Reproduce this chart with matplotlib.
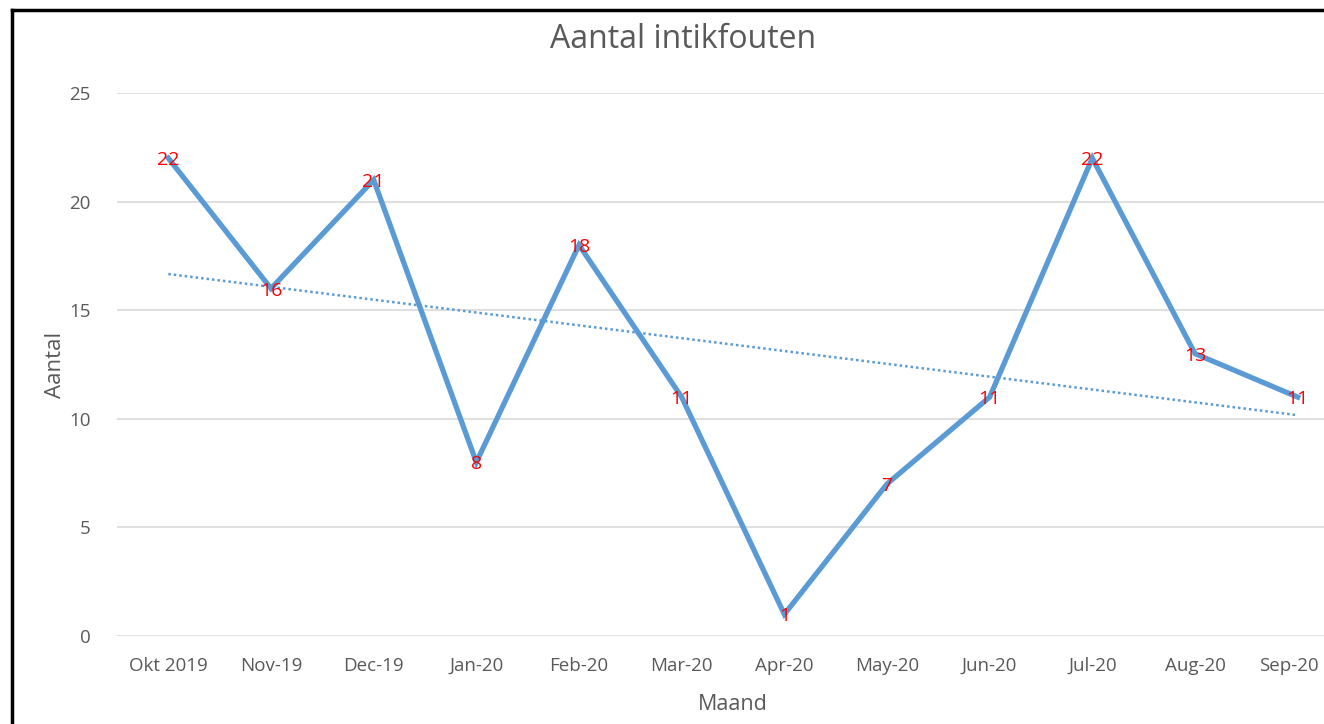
import matplotlib
matplotlib.use("Agg")
import matplotlib.pyplot as plt
from matplotlib.lines import Line2D
import matplotlib.transforms as mtransforms
import numpy as np

months = ["Okt 2019", "Nov-19", "Dec-19", "Jan-20", "Feb-20", "Mar-20",
          "Apr-20", "May-20", "Jun-20", "Jul-20", "Aug-20", "Sep-20"]
counts = [22, 16, 21, 8, 18, 11, 1, 7, 11, 22, 13, 11]
yticks = [0, 5, 10, 15, 20, 25]

plt.rcParams['font.family'] = ['Open Sans', 'DejaVu Sans']
grey = '#595959'
blue = '#5B9BD5'

fig = plt.figure(figsize=(13.24, 7.24), dpi=100)
ax = fig.add_axes([117/1324, 88/724, 1232/1324, 543/724])

x = np.arange(len(months))
ax.plot(x, counts, color=blue, lw=3.8, solid_joinstyle='miter', zorder=3)

# linear trendline
k, b = np.polyfit(x, counts, 1)
ax.plot(x, k*x + b, color=blue, lw=1.8, linestyle=(0, (1, 1.2)), zorder=2)

for xi, v in zip(x, counts):
    ax.text(xi, v - 0.1, str(v), color='#FF0000', fontsize=14, ha='center', va='center', zorder=4)

ax.set_xlim(-0.5, len(months) - 0.5)
ax.set_ylim(0, 25)
ax.set_yticks(yticks)
ax.set_xticks(x)
ax.set_xticklabels(months)
ax.tick_params(axis='both', length=0, colors=grey, labelsize=13.5)
ax.tick_params(axis='y', pad=19)
ax.tick_params(axis='x', pad=15)
ax.grid(axis='y', color='#D9D9D9', lw=1.2)
ax.set_axisbelow(True)
for s in ax.spines.values():
    s.set_visible(False)

# keep the last category label inside the figure (as the reference does)
last = ax.get_xticklabels()[-1]
last.set_transform(last.get_transform() + mtransforms.ScaledTranslation(-9/100, 0, fig.dpi_scale_trans))

ax.set_xlabel("Maand", color=grey, fontsize=15.5, labelpad=14)
ax.set_ylabel("Aantal", color=grey, fontsize=16, labelpad=2)
fig.text(683/1324, 1 - 40/724, "Aantal intikfouten", color=grey, fontsize=23,
         ha='center', va='center')

# outer black border (top and left)
fig.add_artist(Line2D([12/1324, 1], [1 - 10/724, 1 - 10/724], color='black', lw=2.5,
                      transform=fig.transFigure))
fig.add_artist(Line2D([12/1324, 12/1324], [0, 1 - 10/724], color='black', lw=2.5,
                      transform=fig.transFigure))

fig.savefig("out.png", dpi=100)
